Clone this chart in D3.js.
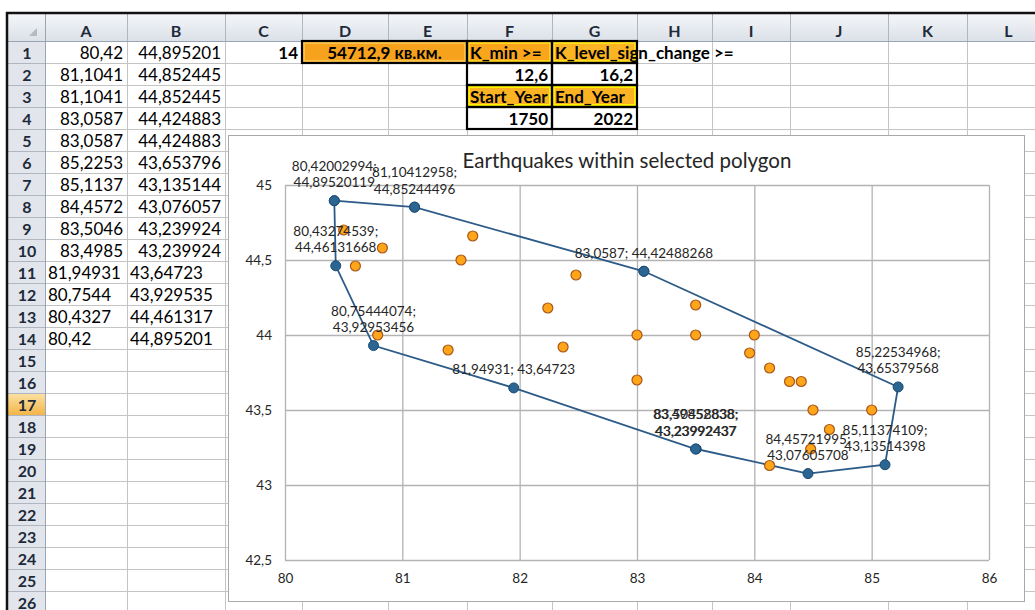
<!DOCTYPE html>
<html><head><meta charset="utf-8">
<script src="https://cdn.jsdelivr.net/npm/d3@7"></script>
<style>body{margin:0;background:#fff;overflow:hidden} svg{display:block}</style>
</head><body><svg id="c" width="1035" height="610"></svg>
<script>
// ---------------- DATA ----------------
// Polygon vertices (blue series), lon / lat
const polyLon = [80.42002994, 81.10412958, 81.10412958, 83.0587, 83.0587, 85.22534968, 85.11374109, 84.45721995, 83.50458838, 83.49852838, 81.94931, 80.75444074, 80.43274539, 80.42002994];
const polyLat = [44.89520119, 44.85244496, 44.85244496, 44.42488268, 44.42488268, 43.65379568, 43.13514398, 43.07605708, 43.23992437, 43.23992437, 43.64723, 43.92953456, 44.46131668, 44.89520119];
// Earthquakes inside polygon (orange series)
const quakeLon = [80.50, 80.83, 80.60, 81.60, 81.50, 80.79, 81.39, 82.24, 82.48, 82.37, 83.00, 83.50, 83.50, 84.00, 83.96, 84.13, 84.30, 84.40, 83.00, 84.50, 85.00, 84.64, 84.48, 84.13];
const quakeLat = [44.70, 44.58, 44.46, 44.66, 44.50, 44.00, 43.90, 44.18, 44.40, 43.92, 44.00, 44.20, 44.00, 44.00, 43.88, 43.78, 43.69, 43.69, 43.70, 43.50, 43.50, 43.37, 43.24, 43.13];
// Axis ticks
const xTicks = [80, 81, 82, 83, 84, 85, 86];
const yTicks = [42.5, 43, 43.5, 44, 44.5, 45];
const chartTitle = "Earthquakes within selected polygon";
// Spreadsheet contents
const colNames = ["A","B","C","D","E","F","G","H","I","J","K","L"];
const cellA = ["80,42","81,1041","81,1041","83,0587","83,0587","85,2253","85,1137","84,4572","83,5046","83,4985","81,94931","80,7544","80,4327","80,42"];
const cellB = ["44,895201","44,852445","44,852445","44,424883","44,424883","43,653796","43,135144","43,076057","43,239924","43,239924","43,64723","43,929535","44,461317","44,895201"];
const cellIsText = [false,false,false,false,false,false,false,false,false,false,true,true,true,true];
const cellC1 = "14";
const cellD1 = "54712,9 кв.км.";
const paramHeaders = ["K_min >=", "K_level_sign_change >=", "Start_Year", "End_Year"];
const paramValues = ["12,6", "16,2", "1750", "2022"];
const rowCount = 26;
const selectedRow = 17;

// ---------------- LAYOUT ----------------
const svg = d3.select("#c");
const FONT = "Lato, 'Open Sans', sans-serif";
const colEdges = [8, 45, 127, 225, 302, 388, 467, 552, 637, 712, 790, 888, 967, 1050];
const headTop = 14, headBot = 41, rowH = 22;
const rowTop = r => headBot + (r - 1) * rowH;

const defs = svg.append("defs");
const hg = defs.append("linearGradient").attr("id","hg").attr("x1",0).attr("y1",0).attr("x2",0).attr("y2",1);
hg.append("stop").attr("offset","0").attr("stop-color","#f4f6f9");
hg.append("stop").attr("offset","1").attr("stop-color","#dbe1e8");
const og = defs.append("linearGradient").attr("id","og").attr("x1",0).attr("y1",0).attr("x2",0).attr("y2",1);
og.append("stop").attr("offset","0").attr("stop-color","#fbe2a6");
og.append("stop").attr("offset","1").attr("stop-color","#f4b548");

const sheet = svg.append("g");
sheet.append("rect").attr("x",8).attr("y",headTop).attr("width",1035).attr("height",headBot-headTop).attr("fill","url(#hg)");
sheet.append("rect").attr("x",8).attr("y",headBot).attr("width",37).attr("height",610).attr("fill","#e2e6ec");
sheet.append("rect").attr("x",8).attr("y",rowTop(selectedRow)).attr("width",37).attr("height",rowH).attr("fill","url(#og)");

const rowsIdx = d3.range(1, rowCount + 2);
sheet.selectAll("line.hr").data(rowsIdx).join("line")
  .attr("x1",45).attr("x2",1035).attr("y1",d=>rowTop(d)+0.5).attr("y2",d=>rowTop(d)+0.5)
  .attr("stroke","#c4c4c4");
sheet.selectAll("line.hh").data(rowsIdx).join("line")
  .attr("x1",8).attr("x2",45).attr("y1",d=>rowTop(d)+0.5).attr("y2",d=>rowTop(d)+0.5)
  .attr("stroke","#aeb6c2");
sheet.selectAll("line.vc").data(colEdges.slice(1)).join("line")
  .attr("x1",d=>d+0.5).attr("x2",d=>d+0.5).attr("y1",headBot).attr("y2",610)
  .attr("stroke","#c4c4c4");
sheet.selectAll("line.vh").data(colEdges.slice(1)).join("line")
  .attr("x1",d=>d+0.5).attr("x2",d=>d+0.5).attr("y1",headTop).attr("y2",headBot)
  .attr("stroke","#aeb6c2");
sheet.append("line").attr("x1",8).attr("x2",1035).attr("y1",headBot+0.5).attr("y2",headBot+0.5).attr("stroke","#9aa4b2");
sheet.append("line").attr("x1",45.5).attr("x2",45.5).attr("y1",headTop).attr("y2",610).attr("stroke","#9aa4b2");
sheet.append("line").attr("x1",6).attr("x2",1035).attr("y1",13).attr("y2",13).attr("stroke","#111").attr("stroke-width",2.5);
sheet.append("line").attr("x1",7).attr("x2",7).attr("y1",12).attr("y2",610).attr("stroke","#111").attr("stroke-width",2.5);
sheet.append("path").attr("d","M37,28 L37,36 L29,36 Z").attr("fill","#b4bac4");

sheet.selectAll("text.ch").data(colNames).join("text")
  .attr("x",(d,i)=>(colEdges[i+1]+colEdges[i+2])/2).attr("y",37)
  .attr("text-anchor","middle").attr("font-family",FONT).attr("font-weight","bold")
  .attr("font-size",16).attr("fill","#1e2a3a").text(d=>d);
sheet.selectAll("text.rn").data(d3.range(1,rowCount+1)).join("text")
  .attr("x",27).attr("y",d=>rowTop(d)+rowH-4)
  .attr("text-anchor","middle").attr("font-family",FONT).attr("font-weight","bold")
  .attr("font-size",16).attr("fill","#1e2a3a").text(d=>d);

function cellText(col, txt, i, isText, bold){
  const l = colEdges[col+1], r = colEdges[col+2];
  sheet.append("text")
    .attr("x", isText ? l+3 : r-4).attr("y", rowTop(i+1)+rowH-4)
    .attr("text-anchor", isText ? "start" : "end")
    .attr("font-family",FONT).attr("font-size",17).attr("font-weight", bold ? "bold" : "normal")
    .attr("fill","#000").text(txt);
}
cellA.forEach((t,i)=>cellText(0,t,i,cellIsText[i],false));
cellB.forEach((t,i)=>cellText(1,t,i,cellIsText[i],false));
cellText(2, cellC1, 0, false, true);

function fillCell(x0,x1,r,fill,inner){
  sheet.append("rect").attr("x",x0).attr("y",rowTop(r)).attr("width",x1-x0).attr("height",rowH).attr("fill",fill);
  if(inner) sheet.append("rect").attr("x",x0+2).attr("y",rowTop(r)+2).attr("width",x1-x0-4).attr("height",rowH-4)
      .attr("fill","none").attr("stroke",inner).attr("stroke-width",2);
}
fillCell(colEdges[4],colEdges[6],1,"#f6a21c","#fbc24a");
fillCell(colEdges[6],colEdges[7],1,"#f9a61d","#ffd21f");
fillCell(colEdges[7],colEdges[8],1,"#fbb423","#ffe01a");
fillCell(colEdges[6],colEdges[7],3,"#fbb323","#fff000");
fillCell(colEdges[7],colEdges[8],3,"#fbb323","#fff000");
sheet.append("text").attr("x",(colEdges[4]+colEdges[6])/2).attr("y",rowTop(1)+rowH-4)
  .attr("text-anchor","middle").attr("font-family",FONT).attr("font-size",17).attr("font-weight","bold").text(cellD1);
[[1,0],[1,1],[3,2],[3,3]].forEach(([r,k])=>{
  const c = 5 + (k % 2);
  sheet.append("text").attr("x",colEdges[c+1]+3).attr("y",rowTop(r)+rowH-4)
    .attr("font-family",FONT).attr("font-size",17).attr("font-weight","bold").attr("fill","#000").text(paramHeaders[k]);
});
[[2,0],[2,1],[4,2],[4,3]].forEach(([r,k])=>{
  const c = 5 + (k % 2);
  sheet.append("text").attr("x",colEdges[c+2]-4).attr("y",rowTop(r)+rowH-4).attr("text-anchor","end")
    .attr("font-family",FONT).attr("font-size",17).attr("font-weight","bold").attr("fill","#000").text(paramValues[k]);
});
const bk = sheet.append("g").attr("stroke","#000").attr("stroke-width",2.2).attr("fill","none");
bk.append("rect").attr("x",colEdges[4]).attr("y",rowTop(1)).attr("width",colEdges[6]-colEdges[4]).attr("height",rowH);
for(let r=1;r<=4;r++) for(let c=6;c<=7;c++)
  bk.append("rect").attr("x",colEdges[c]).attr("y",rowTop(r)).attr("width",colEdges[c+1]-colEdges[c]).attr("height",rowH);

// ---------------- CHART ----------------
const ch = svg.append("g");
ch.append("rect").attr("x",228.5).attr("y",135.5).attr("width",796).attr("height",466)
  .attr("fill","#fff").attr("stroke","#a9a9a9");
const x = d3.scaleLinear().domain([80,86]).range([285,989]);
const y = d3.scaleLinear().domain([42.5,45]).range([560,185]);
const fmt = d => String(d).replace(".", ",");

ch.append("text").attr("x",627).attr("y",168).attr("text-anchor","middle")
  .attr("font-family",FONT).attr("font-size",20.5).attr("fill","#262626").text(chartTitle);

const gx = ch.append("g").attr("transform","translate(0,560)")
  .call(d3.axisBottom(x).tickValues(xTicks).tickSize(-(560-185)).tickFormat(fmt));
const gy = ch.append("g").attr("transform","translate(285,0)")
  .call(d3.axisLeft(y).tickValues(yTicks).tickSize(-(989-285)).tickFormat(fmt));
[gx,gy].forEach(g=>{
  g.select(".domain").remove();
  g.selectAll(".tick line").attr("stroke","#b3b3b3").attr("stroke-width",1.3);
  g.selectAll(".tick text").attr("font-family",FONT).attr("font-size",13.5).attr("fill","#262626");
});
gx.selectAll(".tick text").attr("y",23).attr("dy",0);
gy.selectAll(".tick text").attr("x",-13);

const polyPts = polyLon.map((v,i)=>[v, polyLat[i]]);
ch.append("path").datum(polyPts)
  .attr("d", d3.line().x(d=>x(d[0])).y(d=>y(d[1])))
  .attr("fill","none").attr("stroke","#2d5b88").attr("stroke-width",1.8);
ch.selectAll("circle.p").data(polyPts).join("circle")
  .attr("cx",d=>x(d[0])).attr("cy",d=>y(d[1])).attr("r",5)
  .attr("fill","#2b6592").attr("stroke","#1c4a72").attr("stroke-width",1);

const qPts = quakeLon.map((v,i)=>[v, quakeLat[i]]);
ch.selectAll("circle.q").data(qPts).join("circle")
  .attr("cx",d=>x(d[0])).attr("cy",d=>y(d[1])).attr("r",5)
  .attr("fill","#ffa51a").attr("stroke","#a8581a").attr("stroke-width",1.2);

// data labels (above), coincident duplicates drawn once
const seen = new Set();
polyPts.forEach(d=>{
  const key = d[0] + "|" + d[1];
  if (seen.has(key)) return;
  seen.add(key);
  const a = fmt(d[0]), b = fmt(d[1]);
  const one = (a.length + b.length + 2) <= 20;
  const t = ch.append("text").attr("text-anchor","middle")
    .attr("font-family",FONT).attr("font-size",13.5).attr("fill","#262626");
  if(one){
    t.append("tspan").attr("x",x(d[0])).attr("y",y(d[1])-13.5).text(a + "; " + b);
  } else {
    t.append("tspan").attr("x",x(d[0])).attr("y",y(d[1])-30).text(a + ";");
    t.append("tspan").attr("x",x(d[0])).attr("y",y(d[1])-13.5).text(b);
  }
});
</script></body></html>
